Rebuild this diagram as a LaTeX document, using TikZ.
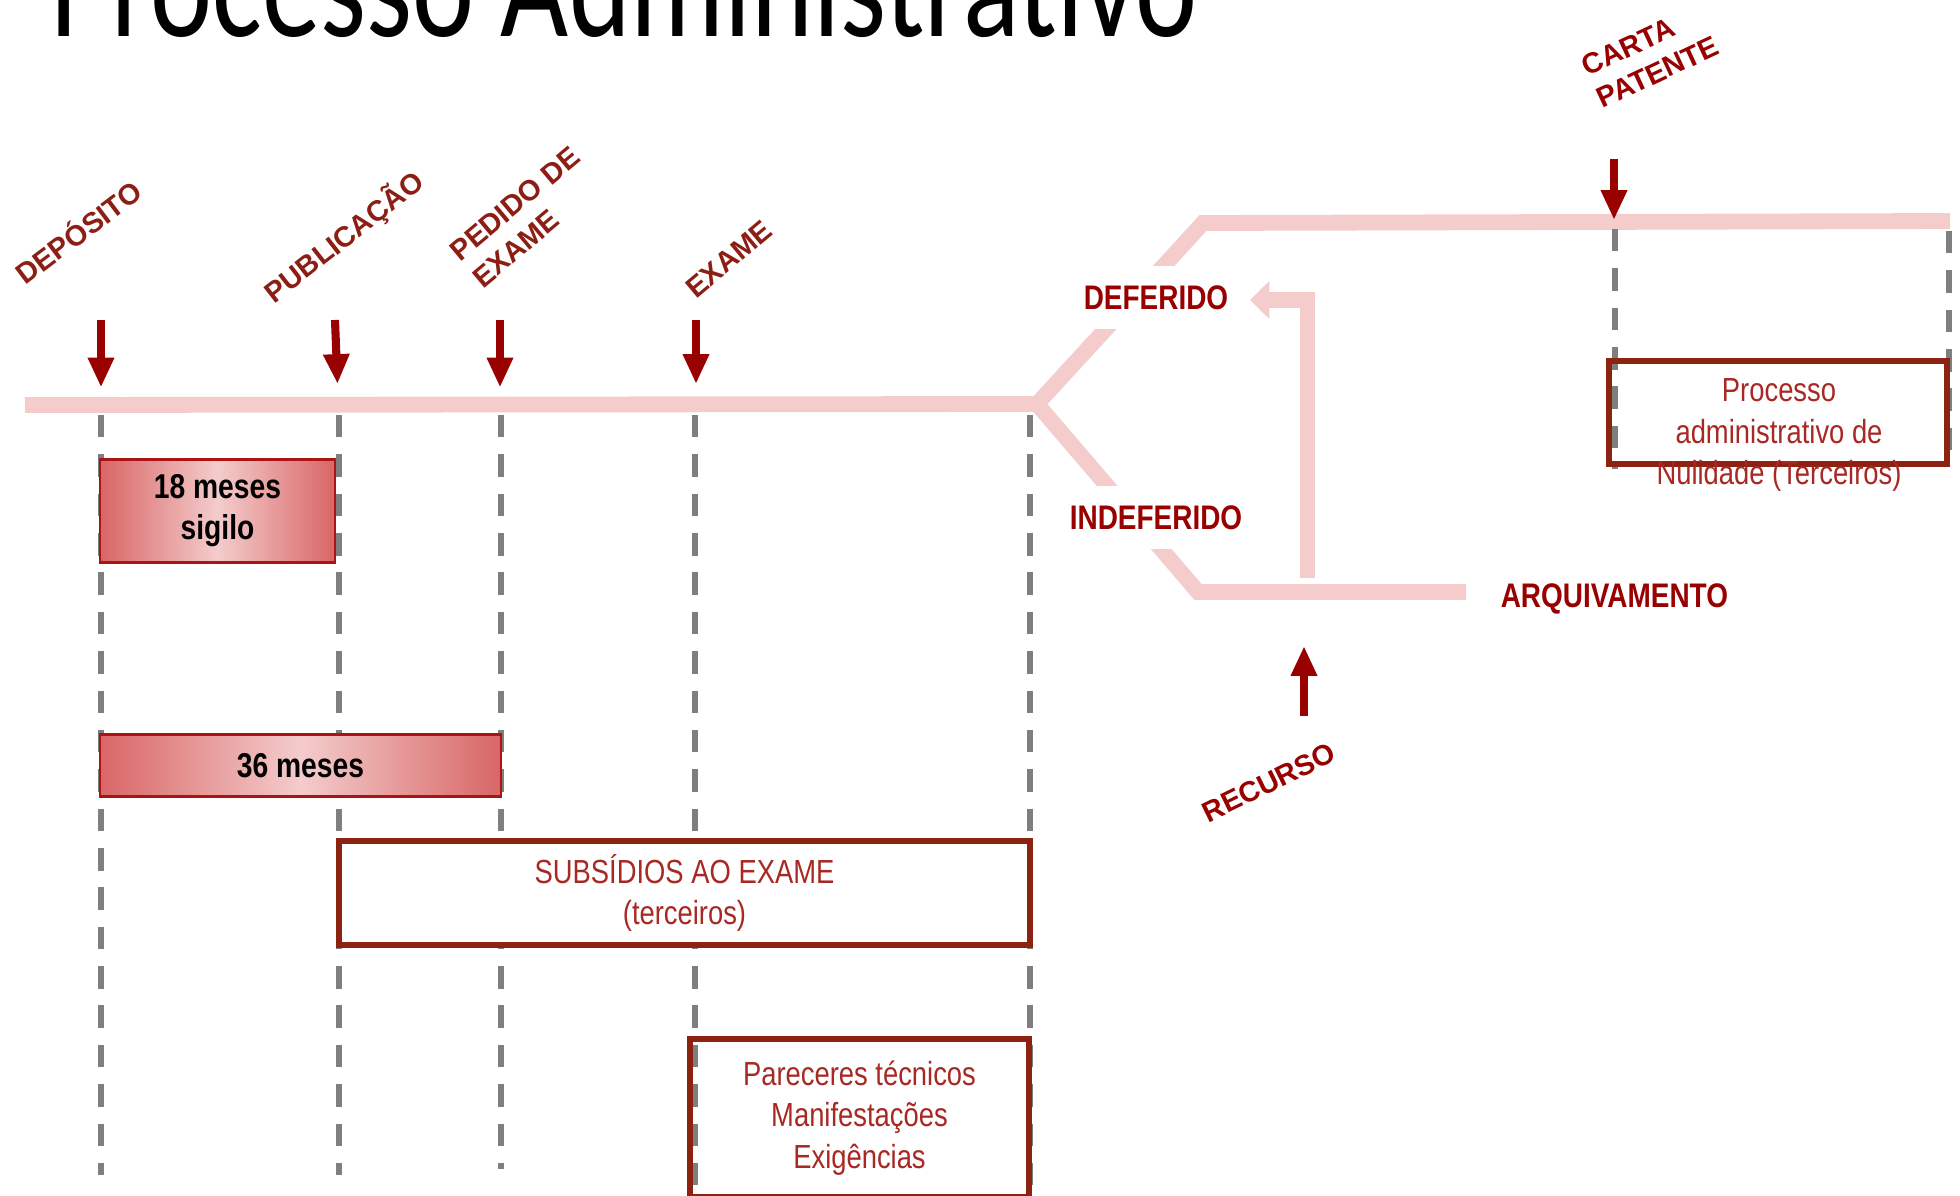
\documentclass[tikz,border=0pt]{standalone}
\usepackage{fontspec}
\setmainfont{Liberation Sans}
\newfontfamily\narrowfont[FakeStretch=0.82]{Liberation Sans}
\newfontfamily\titlefont[FakeStretch=0.778]{Carlito}
\usetikzlibrary{arrows.meta, positioning}
\definecolor{linepink}{RGB}{244,204,204}
\definecolor{arrowred}{RGB}{153,0,0}
\definecolor{labelred}{RGB}{140,30,20}
\definecolor{boxred}{RGB}{139,34,18}
\definecolor{textred}{RGB}{168,40,36}
\definecolor{gradred}{RGB}{217,102,102}
\definecolor{periodedge}{RGB}{170,20,20}
\definecolor{dashgray}{RGB}{127,127,127}

\begin{document}
\begin{tikzpicture}[
        timeline/.style={draw=linepink, line width=4.5pt, line join=miter},
        event_arrow/.style={draw=arrowred, line width=2.3pt, -{Triangle[length=8.5pt, width=7pt]}},
        event_label/.style={text=labelred, font=\bfseries\fontsize{8.2}{10}\selectfont, align=left, rotate=#1, inner sep=0pt},
        event_label/.default=38,
        guide/.style={draw=dashgray, line width=1.5pt, dash pattern=on 6.4pt off 4.8pt},
        period/.style={draw=periodedge, line width=0.8pt, left color=gradred, right color=gradred, middle color=linepink, text=black, font=\narrowfont\bfseries\fontsize{9.8}{11.7}\selectfont, align=center},
        stage_text/.style={text=textred, font=\narrowfont\fontsize{9.5}{11.8}\selectfont, align=center},
        stage/.style={stage_text, draw=boxred, line width=1.8pt},
        decision/.style={text=arrowred, font=\narrowfont\bfseries\fontsize{9.7}{11}\selectfont, fill=white, inner xsep=2pt, inner ysep=5.6pt}
    ]
    \useasboundingbox (0,0) rectangle (19.6,-11.95);

    % titulo
    \node[anchor=base west, font=\titlefont\fontsize{43}{43}\selectfont] (title) at (0.38,-0.37) {Processo Administrativo};

    % linha do tempo
    \coordinate (t_start) at (0.25,-4.05);
    \coordinate (fork) at (10.37,-4.04);
    \coordinate (up_turn) at (12.03,-2.23);
    \coordinate (top_end) at (19.5,-2.21);
    \coordinate (down_turn) at (11.98,-5.92);
    \coordinate (down_end) at (14.66,-5.92);

    \path [timeline] (t_start) -- (fork);
    \path [timeline] (fork) -- (up_turn) -- (top_end);
    \path [timeline] (fork) -- (down_turn) -- (down_end);

    % recurso volta ao deferido
    \coordinate (rec_base) at (13.075,-5.78);
    \coordinate (rec_corner) at (13.075,-3.0);
    \coordinate (rec_tip) at (12.5,-3.0);
    \path [timeline, -{Triangle[length=5.5pt, width=10.5pt]}] (rec_base) -- (rec_corner) -- (rec_tip);

    % guias tracejadas
    \draw[guide] (1.01,-4.15) -- (1.01,-11.75);
    \draw[guide] (3.39,-4.15) -- (3.39,-11.75);
    \draw[guide] (5.01,-4.15) -- (5.01,-11.69);
    \draw[guide] (6.95,-4.15) -- (6.95,-11.85);
    \draw[guide] (10.3,-4.15) -- (10.3,-11.95);
    \draw[guide] (16.15,-2.29) -- (16.15,-4.69);
    \draw[guide] (19.49,-2.31) -- (19.49,-4.63);

    % prazos e etapas
    \node[period, minimum width=2.35cm, minimum height=1.03cm] (sigilo) at (2.175,-5.11) {18 meses\\sigilo};
    \node[period, minimum width=4.01cm, minimum height=0.62cm] (prazo) at (3.005,-7.655) {36 meses};
    \node[stage, fill=white, minimum width=6.91cm, minimum height=1.04cm] (subsidios) at (6.845,-8.93) {SUBSÍDIOS AO EXAME\\(terceiros)};
    \node[stage, minimum width=3.39cm, minimum height=1.58cm] (pareceres) at (8.595,-11.18) {Pareceres técnicos\\Manifestações\\Exigências};
    \node[stage, minimum width=3.385cm, minimum height=1.03cm] (nulidade_box) at (17.78,-4.125) {};
    \node[stage_text] (nulidade_text) at (17.79,-4.35) {Processo\\administrativo de\\Nulidade (Terceiros)};

    % decisao
    \node[decision] (deferido) at (11.56,-2.975) {DEFERIDO};
    \node[decision] (indeferido) at (11.56,-5.175) {INDEFERIDO};
    \node[decision, fill=none, right=0.27cm of down_end, yshift=-0.07cm] (arquivamento) {ARQUIVAMENTO};

    % marcos
    \coordinate (dep_top) at (1.01,-3.2);
    \coordinate (dep_tip) at (1.01,-3.875);
    \coordinate (pub_top) at (3.35,-3.2);
    \coordinate (pub_tip) at (3.375,-3.84);
    \coordinate (ped_top) at (5.0,-3.2);
    \coordinate (ped_tip) at (5.0,-3.875);
    \coordinate (exa_top) at (6.96,-3.2);
    \coordinate (exa_tip) at (6.96,-3.84);
    \coordinate (carta_top) at (16.14,-1.59);
    \coordinate (carta_tip) at (16.14,-2.2);
    \coordinate (rec_arrow_base) at (13.04,-7.16);
    \coordinate (rec_arrow_tip) at (13.04,-6.46);

    \path [event_arrow] (dep_top) -- (dep_tip);
    \path [event_arrow] (pub_top) -- (pub_tip);
    \path [event_arrow] (ped_top) -- (ped_tip);
    \path [event_arrow] (exa_top) -- (exa_tip);
    \path [event_arrow] (carta_top) -- (carta_tip);
    \path [event_arrow] (rec_arrow_base) -- (rec_arrow_tip);

    \node[event_label=37] (deposito) at (0.775,-2.31) {DEPÓSITO};
    \node[event_label] (publicacao) at (3.44,-2.375) {PUBLICAÇÃO};
    \node[event_label=40] (pedido) at (5.26,-2.17) {PEDIDO DE\\EXAME};
    \node[event_label=40] (exame) at (7.29,-2.59) {EXAME};
    \node[event_label=25, text=arrowred] (carta) at (16.5,-0.56) {CARTA\\PATENTE};
    \node[event_label=26, text=arrowred] (recurso) at (12.69,-7.825) {RECURSO};

\end{tikzpicture}
\end{document}
